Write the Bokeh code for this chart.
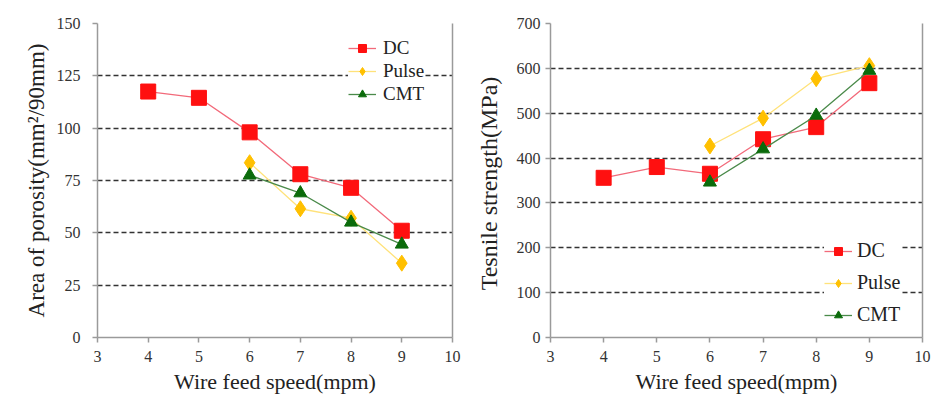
from bokeh.plotting import figure
from bokeh.layouts import row
from bokeh.models import Legend, LinearAxis, FixedTicker
from bokeh.embed import file_html
from bokeh.resources import INLINE

# ---- data ----
speed_dc = [4, 5, 6, 7, 8, 9]
speed_pc = [6, 7, 8, 9]

por_dc = [117.5, 114.5, 98, 78, 71.5, 51]
por_pulse = [83.5, 61.5, 57, 35.5]
por_cmt = [77.5, 69, 55, 44.5]

ts_dc = [356, 380, 365, 442, 469, 567]
ts_pulse = [427, 489, 577, 606]
ts_cmt = [346, 420, 495, 595]

x_ticks = [3, 4, 5, 6, 7, 8, 9, 10]
por_ticks = [0, 25, 50, 75, 100, 125, 150]
ts_ticks = [0, 100, 200, 300, 400, 500, 600, 700]

FONT = "'Liberation Serif', 'Times New Roman', serif"
DC_FILL, DC_LINE = "#ff1010", "#f26a7a"
PU_FILL, PU_LINE = "#ffc000", "#ffe27a"
CM_FILL, CM_LINE = "#0b6b0b", "#4a8a4a"


def make_fig(width, border_left, border_right, y_end, yticks, ylabel, ylab_size):
    p = figure(width=width, height=398, x_range=(3, 10), y_range=(0, y_end),
               output_backend="svg", toolbar_location=None,
               min_border_left=border_left, min_border_right=border_right,
               min_border_top=23, min_border_bottom=61)
    p.outline_line_color = None
    p.xaxis.ticker = FixedTicker(ticks=x_ticks)
    p.yaxis.ticker = FixedTicker(ticks=yticks)
    p.xgrid.grid_line_color = None
    p.ygrid.ticker = FixedTicker(ticks=yticks)
    p.ygrid.grid_line_color = "#333333"
    p.ygrid.grid_line_dash = "5 3"
    p.ygrid.grid_line_width = 1.6
    for ax in (p.xaxis[0], p.yaxis[0]):
        ax.axis_line_color = "#9a9a9a"
        ax.axis_line_width = 1.5
        ax.major_tick_line_color = "#9a9a9a"
        ax.major_tick_line_width = 1.5
        ax.major_tick_in = 0
        ax.major_tick_out = 5
        ax.minor_tick_line_color = None
        ax.major_label_text_font = FONT
        ax.major_label_text_font_size = "16px"
        ax.major_label_text_color = "#333333"
        ax.axis_label_text_font = FONT
        ax.axis_label_text_font_style = "normal"
        ax.axis_label_text_color = "#222222"
    p.xaxis.axis_label = "Wire feed speed(mpm)"
    p.xaxis.axis_label_text_font_size = "22px"
    p.xaxis.major_label_standoff = 8
    p.xaxis.axis_label_standoff = 4
    p.yaxis.axis_label = ylabel
    p.yaxis.axis_label_text_font_size = ylab_size
    # right frame edge (no ticks, no labels)
    r = LinearAxis(ticker=FixedTicker(ticks=[]), axis_line_color="#9a9a9a", axis_line_width=1.5,
                   major_tick_line_color=None, minor_tick_line_color=None)
    p.add_layout(r, "right")
    return p


def add_series(p, xs_dc, xs_pc, dc, pu, cm):
    l1 = p.line(xs_dc, dc, line_color=DC_LINE, line_width=1.3)
    m1 = p.scatter(xs_dc, dc, marker="square", size=15, fill_color=DC_FILL, line_color=DC_FILL)
    l2 = p.line(xs_pc, pu, line_color=PU_LINE, line_width=1.3)
    m2 = p.scatter(xs_pc, pu, marker="diamond", size=16, fill_color=PU_FILL, line_color=PU_FILL)
    l3 = p.line(xs_pc, cm, line_color=CM_LINE, line_width=1.3)
    m3 = p.scatter(xs_pc, cm, marker="triangle", size=13, fill_color=CM_FILL, line_color=CM_FILL)
    return [("DC", [l1, m1]), ("Pulse", [l2, m2]), ("CMT", [l3, m3])]


# left chart
p1 = make_fig(462, 97, 10, 150, por_ticks, "Area of porosity(mm\u00b2/90mm)", "23px")
p1.yaxis.major_label_standoff = 12
items1 = add_series(p1, speed_dc, speed_pc, por_dc, por_pulse, por_cmt)
leg1 = Legend(items=items1, location=(251, 232), padding=10, spacing=1,
              glyph_width=28, glyph_height=20, label_height=20, label_standoff=7,
              label_text_font=FONT, label_text_font_size="19px", label_text_color="#222222",
              border_line_color=None, background_fill_color="white", background_fill_alpha=1.0,
              margin=0)
p1.add_layout(leg1, "center")

# right chart
p2 = make_fig(471, 88, 11, 700, ts_ticks, "Tesnile  strength(MPa)", "24px")
p2.yaxis.major_label_standoff = 5
p2.yaxis.axis_label_standoff = 12
items2 = add_series(p2, speed_dc, speed_pc, ts_dc, ts_pulse, ts_cmt)
leg2 = Legend(items=items2, location=(274, 11), padding=10, spacing=9,
              glyph_width=28, glyph_height=20, label_height=20, label_standoff=5,
              label_text_font=FONT, label_text_font_size="20px", label_text_color="#222222",
              border_line_color=None, background_fill_color="white", background_fill_alpha=1.0,
              margin=0)
p2.add_layout(leg2, "center")

layout = row(p1, p2)
open("out.html", "w").write(file_html(layout, INLINE))
